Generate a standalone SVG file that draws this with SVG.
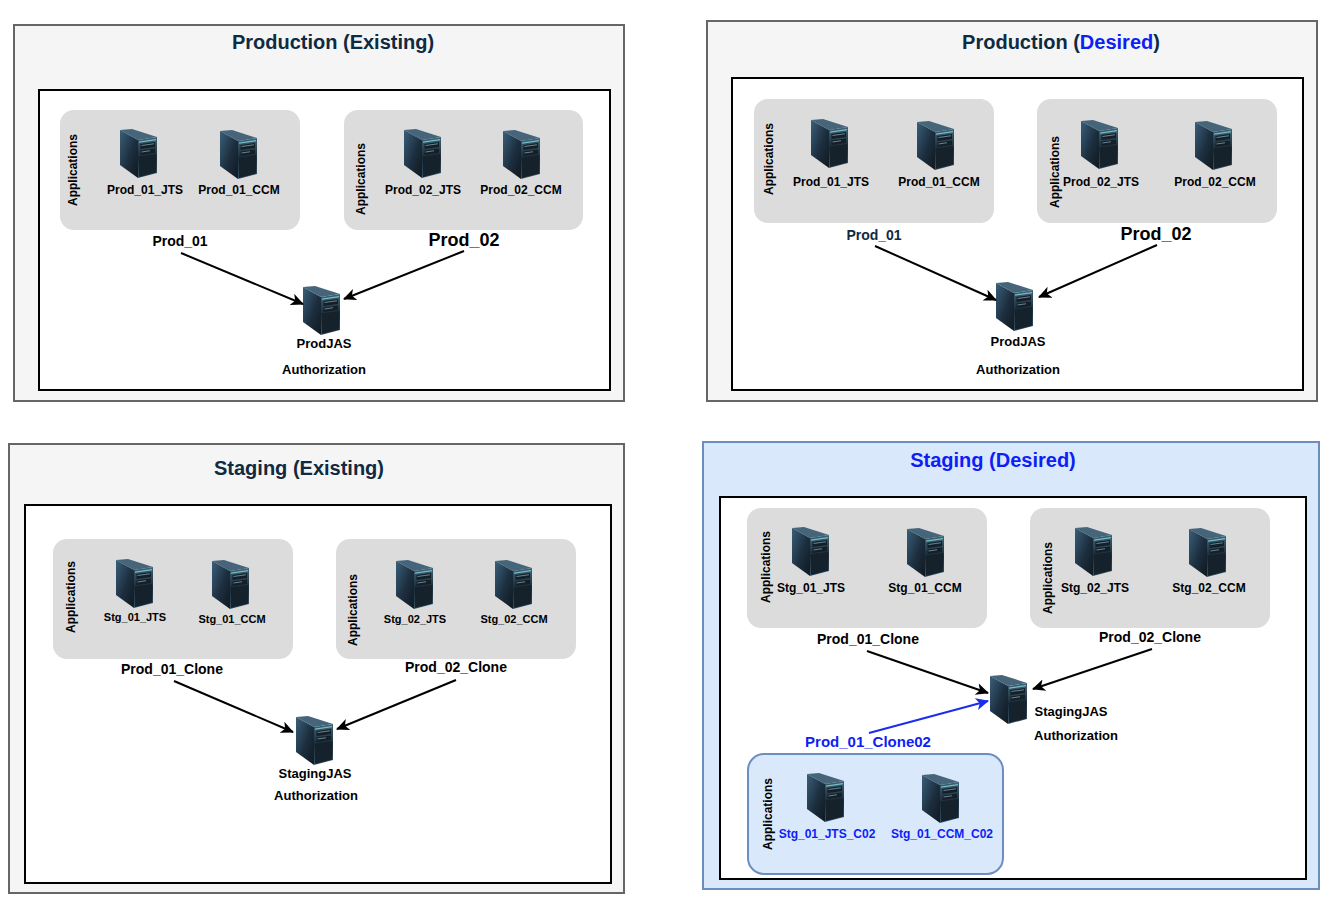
<svg xmlns="http://www.w3.org/2000/svg" width="1328" height="908" viewBox="0 0 1328 908">
<style>
text{font-family:"Liberation Sans",Arial,sans-serif;font-weight:bold;fill:#000;text-anchor:middle}
.panel{fill:#f5f5f5;stroke:#666;stroke-width:2}
.panelb{fill:#dae8fc;stroke:#6c8ebf;stroke-width:2}
.inner{fill:#fff;stroke:#000;stroke-width:2}
.grp{fill:#dcdcdc}
.grpb{fill:#dae8fc;stroke:#6c8ebf;stroke-width:2}
.t{font-size:20px;fill:#0f2a43}
.b{fill:#0d1ff5}
.s{font-size:12px}
.j{font-size:13px}
.x{font-size:11px}
.m{font-size:14px}
.l{font-size:18px}
.c{stroke:#000;stroke-width:2;fill:none;marker-end:url(#a)}
.cb{stroke:#1a2cf0;stroke-width:2;fill:none;marker-end:url(#ab)}
</style>
<defs>
<marker id="a" markerUnits="userSpaceOnUse" markerWidth="14" markerHeight="14" refX="12" refY="6" orient="auto"><path d="M0 0L13 6L0 12L3.500 6Z" fill="#000"/></marker>
<marker id="ab" markerUnits="userSpaceOnUse" markerWidth="14" markerHeight="14" refX="12" refY="6" orient="auto"><path d="M0 0L13 6L0 12L3.500 6Z" fill="#1a2cf0"/></marker>
<linearGradient id="sl" x1="0" y1="0" x2="1" y2="1"><stop offset="0" stop-color="#3a5f7a"/><stop offset=".55" stop-color="#1c2e3e"/><stop offset="1" stop-color="#10181f"/></linearGradient>
<linearGradient id="sf" x1="0" y1="0" x2="0" y2="1"><stop offset="0" stop-color="#3f6376"/><stop offset=".5" stop-color="#1a2b37"/><stop offset="1" stop-color="#36566a"/></linearGradient>
<symbol id="srv" width="38" height="50" viewBox="0 0 38 50" overflow="visible">
<path d="M0 1L18 11V49L0 36Z" fill="url(#sl)"/>
<path d="M0 1L12 0L37 8L18 11Z" fill="#46647a"/>
<path d="M18 11L37 8V44L18 49Z" fill="url(#sf)"/>
<path d="M19 12.500L36 10V11.200L19 13.700Z" fill="#6fc0c8"/>
<path d="M20.500 15L35 13V18L20.500 20Z" fill="#141f28"/>
<path d="M21.500 16L34 14.300V15.300L21.500 17Z" fill="#6d8494"/>
<path d="M20.500 21.500L35 19.500V24L20.500 26Z" fill="#141f28"/>
<path d="M21.500 22.500L30 21.300V22.300L21.500 23.500Z" fill="#6d8494"/>
<path d="M19 27.500L36 25V43.500L19 48Z" fill="#16222b"/>
</symbol>
</defs>

<g id="prod-existing">
<rect class="panel" x="14" y="25" width="610" height="376"/>
<text class="t" x="333" y="49">Production (Existing)</text>
<rect class="inner" x="39" y="90" width="571" height="300"/>
</g>
<g id="prod-desired">
<rect class="panel" x="707" y="21" width="610" height="380"/>
<text class="t" x="1061" y="49">Production (<tspan class="b">Desired</tspan>)</text>
<rect class="inner" x="732" y="78" width="571" height="312"/>
</g>
<g id="stg-existing">
<rect class="panel" x="9" y="444" width="615" height="449"/>
<text class="t" x="299" y="475">Staging (Existing)</text>
<rect class="inner" x="25" y="505" width="586" height="378"/>
</g>
<g id="stg-desired">
<rect class="panelb" x="703" y="442" width="616" height="447"/>
<text class="t b" x="993" y="467">Staging (Desired)</text>
<rect class="inner" x="720" y="497" width="586" height="382"/>
</g>

<g id="pe-01">
<rect class="grp" x="60" y="110" width="240" height="120" rx="14"/>
<text class="s" transform="translate(77 170) rotate(-90)">Applications</text>
<use href="#srv" x="120" y="129"/><text class="s" x="145" y="194">Prod_01_JTS</text>
<use href="#srv" x="220" y="130"/><text class="s" x="239" y="194">Prod_01_CCM</text>
<text class="m" x="180" y="246">Prod_01</text>
</g>
<g id="pe-02">
<rect class="grp" x="344" y="110" width="239" height="120" rx="14"/>
<text class="s" transform="translate(365 179) rotate(-90)">Applications</text>
<use href="#srv" x="404" y="129"/><text class="s" x="423" y="194">Prod_02_JTS</text>
<use href="#srv" x="503" y="130"/><text class="s" x="521" y="194">Prod_02_CCM</text>
<text class="l" x="464" y="246">Prod_02</text>
</g>
<g id="pe-jas">
<use href="#srv" x="303" y="286"/>
<text class="j" x="324" y="348">ProdJAS</text>
<text class="j" x="324" y="374">Authorization</text>
</g>

<g id="pd-01">
<rect class="grp" x="754" y="99" width="240" height="124" rx="14"/>
<text class="s" transform="translate(773 159) rotate(-90)">Applications</text>
<use href="#srv" x="811" y="119"/><text class="s" x="831" y="186">Prod_01_JTS</text>
<use href="#srv" x="917" y="121"/><text class="s" x="939" y="186">Prod_01_CCM</text>
<text class="m" x="874" y="240" style="fill:#0f2a43">Prod_01</text>
</g>
<g id="pd-02">
<rect class="grp" x="1037" y="99" width="240" height="124" rx="14"/>
<text class="s" transform="translate(1059 172) rotate(-90)">Applications</text>
<use href="#srv" x="1081" y="120"/><text class="s" x="1101" y="186">Prod_02_JTS</text>
<use href="#srv" x="1195" y="121"/><text class="s" x="1215" y="186">Prod_02_CCM</text>
<text class="l" x="1156" y="240">Prod_02</text>
</g>
<g id="pd-jas">
<use href="#srv" x="996" y="282"/>
<text class="j" x="1018" y="346">ProdJAS</text>
<text class="j" x="1018" y="374">Authorization</text>
</g>

<g id="se-01">
<rect class="grp" x="53" y="539" width="240" height="120" rx="14"/>
<text class="s" transform="translate(75 597) rotate(-90)">Applications</text>
<use href="#srv" x="116" y="559"/><text class="x" x="135" y="621">Stg_01_JTS</text>
<use href="#srv" x="212" y="560"/><text class="x" x="232" y="623">Stg_01_CCM</text>
<text class="m" x="172" y="674">Prod_01_Clone</text>
</g>
<g id="se-02">
<rect class="grp" x="336" y="539" width="240" height="120" rx="14"/>
<text class="s" transform="translate(357 610) rotate(-90)">Applications</text>
<use href="#srv" x="396" y="560"/><text class="x" x="415" y="623">Stg_02_JTS</text>
<use href="#srv" x="495" y="560"/><text class="x" x="514" y="623">Stg_02_CCM</text>
<text class="m" x="456" y="672">Prod_02_Clone</text>
</g>
<g id="se-jas">
<use href="#srv" x="296" y="716"/>
<text class="j" x="315" y="778">StagingJAS</text>
<text class="j" x="316" y="800">Authorization</text>
</g>

<g id="sd-01">
<rect class="grp" x="747" y="508" width="240" height="120" rx="14"/>
<text class="s" transform="translate(770 567) rotate(-90)">Applications</text>
<use href="#srv" x="792" y="527"/><text class="s" x="811" y="592">Stg_01_JTS</text>
<use href="#srv" x="907" y="528"/><text class="s" x="925" y="592">Stg_01_CCM</text>
<text class="m" x="868" y="644">Prod_01_Clone</text>
</g>
<g id="sd-02">
<rect class="grp" x="1030" y="508" width="240" height="120" rx="14"/>
<text class="s" transform="translate(1052 578) rotate(-90)">Applications</text>
<use href="#srv" x="1075" y="527"/><text class="s" x="1095" y="592">Stg_02_JTS</text>
<use href="#srv" x="1189" y="528"/><text class="s" x="1209" y="592">Stg_02_CCM</text>
<text class="m" x="1150" y="642">Prod_02_Clone</text>
</g>
<g id="sd-jas">
<use href="#srv" x="990" y="675"/>
<text class="j" x="1071" y="716">StagingJAS</text>
<text class="j" x="1076" y="740">Authorization</text>
</g>
<g id="sd-03">
<rect class="grpb" x="748" y="754" width="255" height="120" rx="16"/>
<text class="s" transform="translate(772 814) rotate(-90)">Applications</text>
<use href="#srv" x="807" y="773"/><text class="s b" x="827" y="838">Stg_01_JTS_C02</text>
<use href="#srv" x="922" y="774"/><text class="s b" x="942" y="838">Stg_01_CCM_C02</text>
<text class="b" x="868" y="747" style="font-size:15px">Prod_01_Clone02</text>
</g>

<g id="connectors">
<path class="c" d="M181 253L303 304"/>
<path class="c" d="M464 251L344 299"/>
<path class="c" d="M875 246L996 300"/>
<path class="c" d="M1157 245L1039 297"/>
<path class="c" d="M174 681L293 732"/>
<path class="c" d="M456 680L337 729"/>
<path class="c" d="M867 651L988 693"/>
<path class="c" d="M1152 649L1033 689"/>
<path class="cb" d="M869 733L988 701"/>
</g>
</svg>
